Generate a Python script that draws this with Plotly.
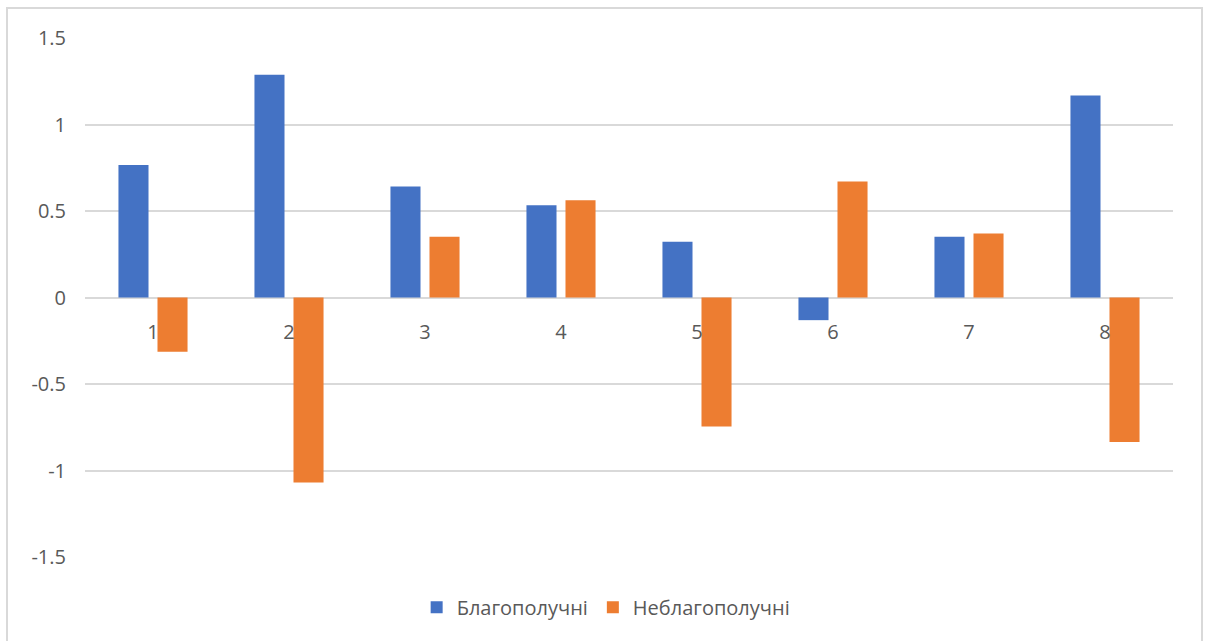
import plotly.graph_objects as go

categories = ["1", "2", "3", "4", "5", "6", "7", "8"]
blago = [0.766, 1.287, 0.642, 0.533, 0.322, -0.131, 0.351, 1.167]
neblago = [-0.314, -1.07, 0.351, 0.562, -0.746, 0.671, 0.370, -0.835]
series_names = ["Благополучні", "Неблагополучні"]
y_ticks = [-1.5, -1, -0.5, 0, 0.5, 1, 1.5]
y_ticktext = ["-1.5", "-1", "-0.5", "0", "0.5", "1", "1.5"]

font_family = "Open Sans, Liberation Sans, sans-serif"
text_color = "#595959"
grid_color = "#d9d9d9"

fig = go.Figure()
fig.add_trace(go.Bar(x=categories, y=blago, name=series_names[0],
                     marker=dict(color="#4472C4", line=dict(width=0))))
fig.add_trace(go.Bar(x=categories, y=neblago, name=series_names[1],
                     marker=dict(color="#ED7D31", line=dict(width=0))))

fig.update_layout(
    width=1209, height=641,
    margin=dict(l=85, r=36, t=38, b=83.5, pad=0),
    paper_bgcolor="white", plot_bgcolor="white",
    barmode="group", bargap=0.426, bargroupgap=0.23,
    font=dict(family=font_family, size=20, color=text_color),
    showlegend=True,
    legend=dict(orientation="h", x=0.479, xanchor="center", y=-0.097, yanchor="middle",
                font=dict(size=20, color=text_color), itemwidth=30, traceorder="normal"),
    xaxis=dict(type="category", anchor="free", position=0.5, showgrid=False,
               showline=False, zeroline=False, ticks="outside", ticklen=16,
               tickcolor="rgba(0,0,0,0)", tickfont=dict(size=20, color=text_color)),
    yaxis=dict(range=[-1.5, 1.5], tickvals=y_ticks, ticktext=y_ticktext,
               showgrid=True, gridcolor=grid_color, gridwidth=1.5,
               zeroline=True, zerolinecolor=grid_color, zerolinewidth=1.5,
               showline=False, ticks="outside", ticklen=14, tickcolor="rgba(0,0,0,0)",
               tickfont=dict(size=20, color=text_color)),
    shapes=[dict(type="rect", xref="paper", yref="paper",
                 x0=(7 - 85) / 1088, x1=(1202 - 85) / 1088,
                 y0=-0.2, y1=(557.5 - 8) / 519.5,
                 line=dict(color=grid_color, width=2), fillcolor="rgba(0,0,0,0)",
                 layer="below")],
)

fig.write_html("out.html", config={"displayModeBar": False},
               post_script="document.body.style.margin='0';")
